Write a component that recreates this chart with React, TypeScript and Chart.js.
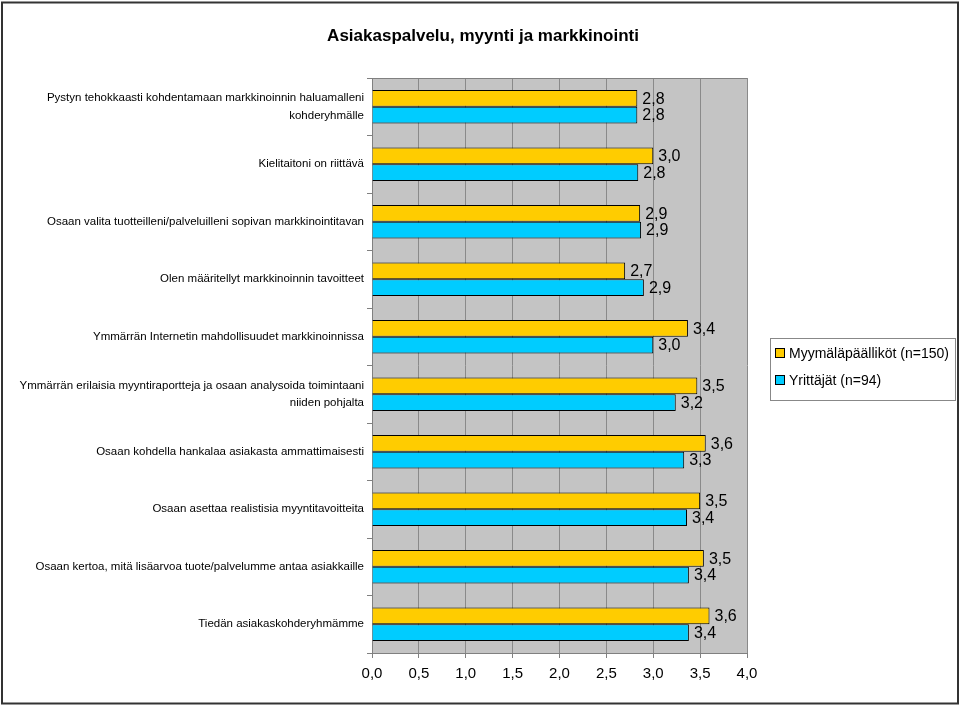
import React, { useEffect, useRef } from "react";
import { Chart, registerables } from "chart.js";

Chart.register(...registerables);

const titleText = "Asiakaspalvelu, myynti ja markkinointi";

const categories: (string | string[])[] = [
  ["Pystyn tehokkaasti kohdentamaan markkinoinnin haluamalleni", "kohderyhmälle"],
  "Kielitaitoni on riittävä",
  "Osaan valita tuotteilleni/palveluilleni sopivan markkinointitavan",
  "Olen määritellyt markkinoinnin tavoitteet",
  "Ymmärrän Internetin mahdollisuudet markkinoinnissa",
  ["Ymmärrän erilaisia myyntiraportteja ja osaan analysoida toimintaani", "niiden pohjalta"],
  "Osaan kohdella hankalaa asiakasta ammattimaisesti",
  "Osaan asettaa realistisia myyntitavoitteita",
  "Osaan kertoa, mitä lisäarvoa tuote/palvelumme antaa asiakkaille",
  "Tiedän asiakaskohderyhmämme",
];

const seriesNames = ["Myymäläpäälliköt (n=150)", "Yrittäjät (n=94)"];
const myymalapaallikot = [2.83, 3.0, 2.86, 2.7, 3.37, 3.47, 3.56, 3.5, 3.54, 3.6];
const yrittajat = [2.83, 2.84, 2.87, 2.9, 3.0, 3.24, 3.33, 3.36, 3.38, 3.38];
const seriesColors = ["#FFCC00", "#00CCFF"];

const xMin = 0;
const xMax = 4;
const xStep = 0.5;

const fmt = (v: number) => v.toFixed(1).replace(".", ",");

const decorPlugin = {
  id: "decor",
  beforeDraw(chart: any) {
    const { ctx, chartArea } = chart;
    ctx.save();
    ctx.fillStyle = "#ffffff";
    ctx.fillRect(0, 0, chart.width, chart.height);
    ctx.fillStyle = "#c4c4c4";
    ctx.fillRect(chartArea.left, chartArea.top, chartArea.right - chartArea.left, chartArea.bottom - chartArea.top);
    ctx.restore();
  },
  afterDraw(chart: any) {
    const { ctx, chartArea } = chart;
    ctx.save();
    ctx.strokeStyle = "#808080";
    ctx.lineWidth = 1;
    ctx.beginPath();
    ctx.moveTo(chartArea.left, chartArea.top + 0.5);
    ctx.lineTo(chartArea.right, chartArea.top + 0.5);
    ctx.stroke();
    ctx.fillStyle = "#000";
    ctx.font = "bold 17px Arial, 'Liberation Sans', sans-serif";
    ctx.textAlign = "center";
    ctx.textBaseline = "alphabetic";
    ctx.fillText(titleText, 483, 41);
    const lx = 770, ly = 338, lw = 185, lh = 62;
    ctx.strokeStyle = "#888";
    ctx.lineWidth = 1;
    ctx.strokeRect(lx + 0.5, ly + 0.5, lw, lh);
    ctx.font = "14px Arial, 'Liberation Sans', sans-serif";
    ctx.textAlign = "left";
    ctx.textBaseline = "middle";
    const rows = [353, 380];
    seriesNames.forEach((name, i) => {
      const cy = rows[i];
      ctx.fillStyle = seriesColors[i];
      ctx.fillRect(775, cy - 5, 10, 10);
      ctx.strokeStyle = "#000";
      ctx.strokeRect(775.5, cy - 4.5, 9, 9);
      ctx.fillStyle = "#000";
      ctx.fillText(name, 789, cy + 1);
    });
    ctx.strokeStyle = "#333";
    ctx.lineWidth = 2;
    ctx.strokeRect(2, 2.5, 956, 701);
    ctx.restore();
  },
  afterDatasetsDraw(chart: any) {
    const { ctx } = chart;
    ctx.save();
    ctx.fillStyle = "#000";
    ctx.font = "16px Arial, 'Liberation Sans', sans-serif";
    ctx.textAlign = "left";
    ctx.textBaseline = "middle";
    chart.data.datasets.forEach((ds: any, di: number) => {
      const meta = chart.getDatasetMeta(di);
      meta.data.forEach((bar: any, i: number) => {
        ctx.fillText(fmt(ds.data[i]), bar.x + 5, bar.y + 1);
      });
    });
    ctx.restore();
  },
};

export default function App() {
  const ref = useRef<HTMLCanvasElement>(null);
  useEffect(() => {
    document.body.style.margin = "0";
    const chart = new Chart(ref.current!, {
      type: "bar",
      data: {
        labels: categories,
        datasets: [
          {
            label: seriesNames[0],
            data: myymalapaallikot,
            backgroundColor: seriesColors[0],
            borderColor: "#000",
            borderWidth: 1,
            categoryPercentage: 0.58,
            barPercentage: 1,
          },
          {
            label: seriesNames[1],
            data: yrittajat,
            backgroundColor: seriesColors[1],
            borderColor: "#000",
            borderWidth: 1,
            categoryPercentage: 0.58,
            barPercentage: 1,
          },
        ],
      },
      options: {
        indexAxis: "y",
        animation: false,
        responsive: false,
        maintainAspectRatio: false,
        devicePixelRatio: 1,
        layout: { padding: { top: 78, right: 213, bottom: 0, left: 0 } },
        plugins: {
          legend: { display: false },
          title: { display: false },
          tooltip: { enabled: false },
        },
        scales: {
          x: {
            type: "linear",
            min: xMin,
            max: xMax,
            border: { color: "#808080" },
            grid: { color: "#8a8a8a", tickLength: 5, drawTicks: true, tickColor: "#808080" },
            ticks: {
              stepSize: xStep,
              color: "#000",
              font: { family: "Arial, 'Liberation Sans', sans-serif", size: 15 },
              padding: 7,
              callback: (v: any) => fmt(Number(v)),
            },
            afterFit: (scale: any) => {
              scale.height = 54;
            },
          },
          y: {
            type: "category",
            border: { color: "#808080" },
            grid: { drawOnChartArea: false, drawTicks: true, tickLength: 5, offset: true, color: "#808080" },
            ticks: {
              color: "#000",
              font: { family: "Arial, 'Liberation Sans', sans-serif", size: 11.5, lineHeight: 1.55 },
              padding: 3,
              autoSkip: false,
            },
            afterFit: (scale: any) => {
              scale.width = 372;
            },
          },
        },
      },
      plugins: [decorPlugin],
    } as any);
    return () => chart.destroy();
  }, []);
  return (
    <div style={{ position: "absolute", left: 0, top: 0, width: 960, height: 707 }}>
      <canvas ref={ref} width={960} height={707} style={{ width: 960, height: 707, display: "block" }} />
    </div>
  );
}
